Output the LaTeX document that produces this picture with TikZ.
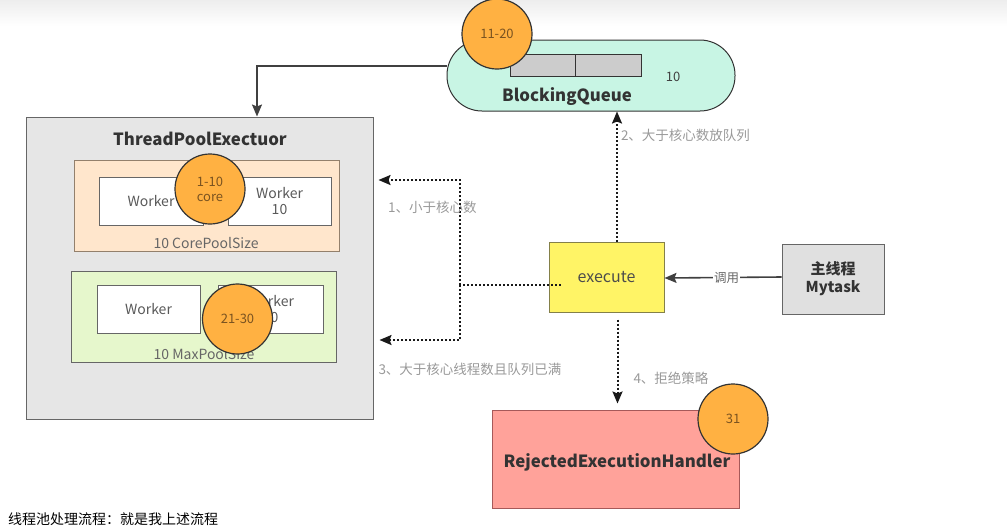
\documentclass[tikz,border=0pt]{standalone}
\usepackage{fontspec}
\setmainfont{Noto Sans CJK SC}
\usepackage{tikz}
\usetikzlibrary{arrows.meta,positioning,shapes.geometric}				%TikZ Libraries
\usepackage{xcolor}
\definecolor{poolfill}{HTML}{E6E6E6}
\definecolor{corefill}{HTML}{FFE6CC}
\definecolor{maxfill}{HTML}{E6F7CC}
\definecolor{queuefill}{HTML}{C8F5E4}
\definecolor{cellfill}{HTML}{CCCCCC}
\definecolor{execfill}{HTML}{FFF466}
\definecolor{mainfill}{HTML}{E0E0E0}
\definecolor{rejectfill}{HTML}{FFA29A}
\definecolor{badgefill}{HTML}{FFB142}
\definecolor{badgetext}{HTML}{7A5320}
\definecolor{darktext}{HTML}{333333}
\definecolor{notetext}{HTML}{999999}

\begin{document}
\begin{tikzpicture}[x=1pt,y=-1pt,
	box/.style={draw=#1, line width=1pt, inner sep=0pt},
	box/.default={gray!80!black},
	badge/.style={circle, draw=darktext, line width=1.2pt, fill=badgefill, minimum size=70pt,
		inner sep=0pt, align=center, text=badgetext, font=\fontsize{13}{15}\selectfont},
	worker/.style={box, fill=white, minimum height=48pt, align=center,
		text=black!65, font=\fontsize{14}{16}\selectfont},
	bold/.style={text=darktext, font=\fontsize{16.8}{20}\selectfont\bfseries},
	note/.style={text=notetext, inner sep=1pt, font=\fontsize{13.5}{15}\selectfont},
	flow/.style={draw=black!75, line width=1.6pt, -{Stealth[length=12pt,width=10pt,inset=2pt]}},
	dotflow/.style={draw=black!90, line width=2pt, dash pattern=on 2pt off 2pt,
		-{Stealth[length=12pt,width=10pt,inset=2pt]}},
	dotline/.style={draw=black!90, line width=2pt, dash pattern=on 2pt off 2pt}]
		\useasboundingbox (0,0) rectangle (1007,528);
		\shade[top color=black!7, bottom color=white, draw=none] (0,0) rectangle (1007,26);
		% thread pool
		\draw (199.5,268) node[box, fill=poolfill, minimum width=347pt, minimum height=302pt] (pool) {};
		\draw (200,139) node[bold] (pooltitle) {ThreadPoolExectuor};
		\draw (206.5,205.5) node[box=gray!70!brown, fill=corefill, minimum width=265pt, minimum height=91pt] (core) {};
		\draw (151,201) node[worker, minimum width=104pt] (coreA) {Worker};
		\draw (279.5,201) node[worker, minimum width=103pt] (coreB) {Worker\\10};
		\draw (206,243) node[text=black!60, font=\fontsize{14}{16}\selectfont] (coresize) {10 CorePoolSize};
		\draw (210,189) node[badge] (coreno) {1-10\\core};
		\draw (203.5,316.5) node[box, fill=maxfill, minimum width=265pt, minimum height=91pt] (max) {};
		\draw (148.5,309) node[worker, minimum width=103pt] (maxA) {Worker};
		\draw (270.5,309) node[worker, minimum width=105pt] (maxB) {Worker\\10};
		\draw (204,354) node[text=black!60, font=\fontsize{14}{16}\selectfont] (maxsize) {10 MaxPoolSize};
		\draw (237.5,319) node[badge] (maxno) {21-30};
		% queue
		\draw (591,75.5) node[box=darktext, fill=queuefill, rounded corners=35pt, minimum width=288pt, minimum height=71pt] (queue) {};
		\draw (542.5,65) node[box=darktext, fill=cellfill, minimum width=65pt, minimum height=22pt] (cellA) {};
		\draw (608,65) node[box=darktext, fill=cellfill, minimum width=66pt, minimum height=22pt] (cellB) {};
		\draw (673,77) node[text=black!75, font=\fontsize{13}{15}\selectfont] (qsize) {10};
		\draw (567,97) node[bold] (qtitle) {BlockingQueue};
		\draw (497,34) node[badge] (queueno) {11-20};
		% execute, caller, handler
		\draw (606.5,277) node[box=black!55!yellow, fill=execfill, minimum width=115pt, minimum height=70pt,
			text=black!70, font=\fontsize{16}{18}\selectfont] (execute) {execute};
		\draw (833,279) node[box, fill=mainfill, minimum width=102pt, minimum height=70pt, align=center,
			text=darktext, font=\fontsize{15}{18}\selectfont\bfseries] (main) {主线程\\Mytask};
		\draw (615.5,459) node[box=gray!70!red, fill=rejectfill, minimum width=247pt, minimum height=98pt] (reject) {};
		\draw (617,462) node[bold] (rtitle) {RejectedExecutionHandler};
		\draw (733,419) node[badge] (rejectno) {31};
		% connectors
		\draw[flow] ([yshift=9.5pt]queue.west) -| ([xshift=57.5pt]pool.north);
		\draw[dotflow] ([xshift=10.5pt]execute.north) -- ([xshift=26pt]queue.south)
		node[pos=0.82, anchor=west, note, xshift=2pt] (step2) {2、大于核心数放队列};
		\coordinate (split) at (460,285);
		\draw[dotline] ([xshift=12pt,yshift=-8pt]execute.west) -- (split);
		\draw[dotflow, shorten >=5pt] (split) |- ([yshift=88pt]pool.east)
		node[pos=0.66, below=19pt, note] (step1) {1、小于核心数};
		\draw[dotflow, shorten >=6pt] (split) |- ([yshift=-72pt]pool.east)
		node[pos=1, anchor=north west, note, xshift=3pt, yshift=-21pt] (step3) {3、大于核心线程数且队列已满};
		\draw[flow] ([yshift=2pt]main.west) -- ([yshift=-1pt]execute.east)
		node[pos=0.47, fill=white, inner sep=1pt, text=black!60, font=\fontsize{12.5}{14}\selectfont] (call) {调用};
		\draw[dotflow, shorten >=6pt] ([xshift=11pt,yshift=-7pt]execute.south) -- ([xshift=2pt]reject.north)
		node[pos=0.65, anchor=west, note, xshift=14pt] (step4) {4、拒绝策略};
		\draw (8,524) node[anchor=base west, inner sep=0pt, font=\fontsize{14}{16}\selectfont] (caption) {线程池处理流程：就是我上述流程};
		\end{tikzpicture}
\end{document}
